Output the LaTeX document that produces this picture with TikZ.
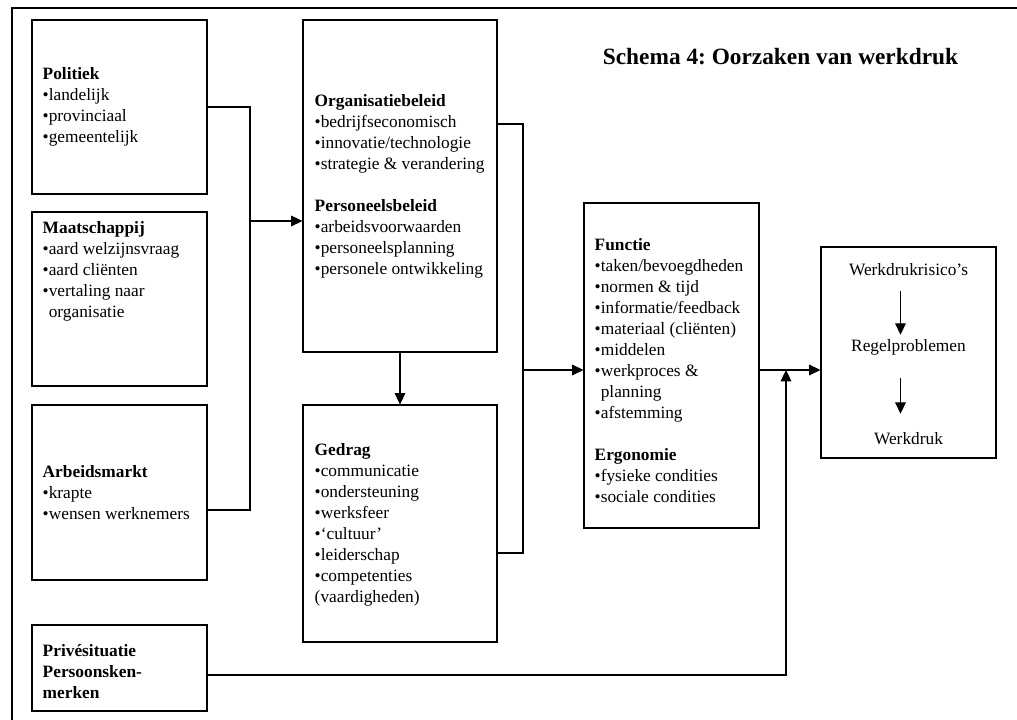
\documentclass[tikz,border=0pt]{standalone}
\usepackage{fontspec}
\setmainfont{Liberation Serif}
\usepackage{tikz}
\usetikzlibrary{arrows.meta, positioning, calc}
\frenchspacing
\newcommand{\bodysize}{\fontsize{13}{15.75}\selectfont}
\tikzset{
	causebox/.style={draw, line width=0.8pt, inner sep=0pt, minimum width=#1},
	causetxt/.style={font=\bodysize, align=left, inner sep=0pt, anchor=west},
	flowtxt/.style={font=\bodysize, inner sep=0pt, anchor=base},
	link/.style={line width=0.8pt},
	linkarr/.style={link, -{Triangle[length=8.5pt, width=8pt]}},
}

\begin{document}
\begin{tikzpicture}[
		x=0.75pt, y=-0.75pt,
		frame/.style={line width=1.5pt},
		title/.style={font=\bfseries\fontsize{17.5}{21}\selectfont, inner sep=0pt, anchor=base}
	]
	\useasboundingbox (0,0) rectangle (1017,720);

	% page frame
	\draw[frame] (11.5,720) -- (11.5,8.5) -- (1017,8.5);

	% title
	\node[title] (head) at (780.5,65) {Schema 4: Oorzaken van werkdruk};

	% outside factors, left column
	\node[causebox=131.25pt, minimum height=130.5pt] (pol) at (119.5,107) {};
	\node[causetxt] (poltxt) at ([xshift=8.25pt]pol.west) {\textbf{Politiek}\\•landelijk\\•provinciaal\\•gemeentelijk};

	\node[causebox=131.25pt, minimum height=130.5pt] (maat) at (119.5,299) {};
	\node[causetxt] (maattxt) at ([xshift=8.25pt, yshift=21pt]maat.west) {\textbf{Maatschappij}\\•aard welzijnsvraag\\•aard cliënten\\•vertaling naar\\\hphantom{•}organisatie};

	\node[causebox=131.25pt, minimum height=131.25pt] (arb) at (119.5,492.5) {};
	\node[causetxt] (arbtxt) at ([xshift=8.25pt]arb.west) {\textbf{Arbeidsmarkt}\\•krapte\\•wensen werknemers};

	\node[causebox=131.25pt, minimum height=64.5pt] (priv) at (119.5,668) {};
	\node[causetxt] (privtxt) at ([xshift=8.25pt, yshift=-3pt]priv.west) {\textbf{Privésituatie}\\\textbf{Persoonsken-}\\\textbf{merken}};

	% organisation, middle column
	\node[causebox=145.5pt, minimum height=249pt] (org) at (400,186) {};
	\node[causetxt] (orgtxt) at ([xshift=9pt]org.west) {\textbf{Organisatiebeleid}\\•bedrijfseconomisch\\•innovatie/technologie\\•strategie \& verandering\\[15.75pt]\textbf{Personeelsbeleid}\\•arbeidsvoorwaarden\\•personeelsplanning\\•personele ontwikkeling};

	\node[causebox=145.5pt, minimum height=177.75pt] (ged) at (400,523.5) {};
	\node[causetxt] (gedtxt) at ([xshift=9pt, yshift=-1pt]ged.west) {\textbf{Gedrag}\\•communicatie\\•ondersteuning\\•werksfeer\\•‘cultuur’\\•leiderschap\\•competenties\\(vaardigheden)};

	% function
	\node[causebox=131.25pt, minimum height=243.75pt] (fun) at (671.5,365.5) {};
	\node[causetxt] (funtxt) at ([xshift=8.25pt, yshift=-4pt]fun.west) {\textbf{Functie}\\•taken/bevoegdheden\\•normen \& tijd\\•informatie/feedback\\•materiaal (cliënten)\\•middelen\\•werkproces \&\\\hphantom{•}planning\\•afstemming\\[15.75pt]\textbf{Ergonomie}\\•fysieke condities\\•sociale condities};

	% result
	\node[causebox=131.25pt, minimum height=158.25pt] (res) at (908.5,352.5) {};
	\node[flowtxt] (risico) at (908.5,276) {Werkdrukrisico’s};
	\node[flowtxt] (regel) at (908.5,351) {Regelproblemen};
	\node[flowtxt] (druk) at (908.5,444) {Werkdruk};
	\draw[linkarr, shorten <=10.5pt, shorten >=3pt] ([xshift=-6pt]risico.south) -- ([xshift=-6pt]regel.north);
	\draw[linkarr, shorten <=17pt, shorten >=13.5pt] ([xshift=-6pt]regel.south) -- ([xshift=-6pt]druk.north);

	% connectors
	\coordinate (busL) at (250,221);
	\coordinate (busR) at (523,370);
	\coordinate (join) at (786,370);
	\draw[link] (pol.east) -| (busL);
	\draw[link] ([yshift=-13.1pt]arb.east) -| (busL);
	\draw[linkarr] (busL) -- (org.west |- busL);
	\draw[linkarr] (org.south) -- (ged.north);
	\draw[link] ([yshift=46.5pt]org.east) -| (busR);
	\draw[link] ([yshift=-22.1pt]ged.east) -| (busR);
	\draw[linkarr] (busR) -- (fun.west |- busR);
	\draw[linkarr] (fun.east |- busR) -- (res.west |- busR);
	\draw[linkarr] ([yshift=-5.25pt]priv.east) -| (join);
\end{tikzpicture}
\end{document}
